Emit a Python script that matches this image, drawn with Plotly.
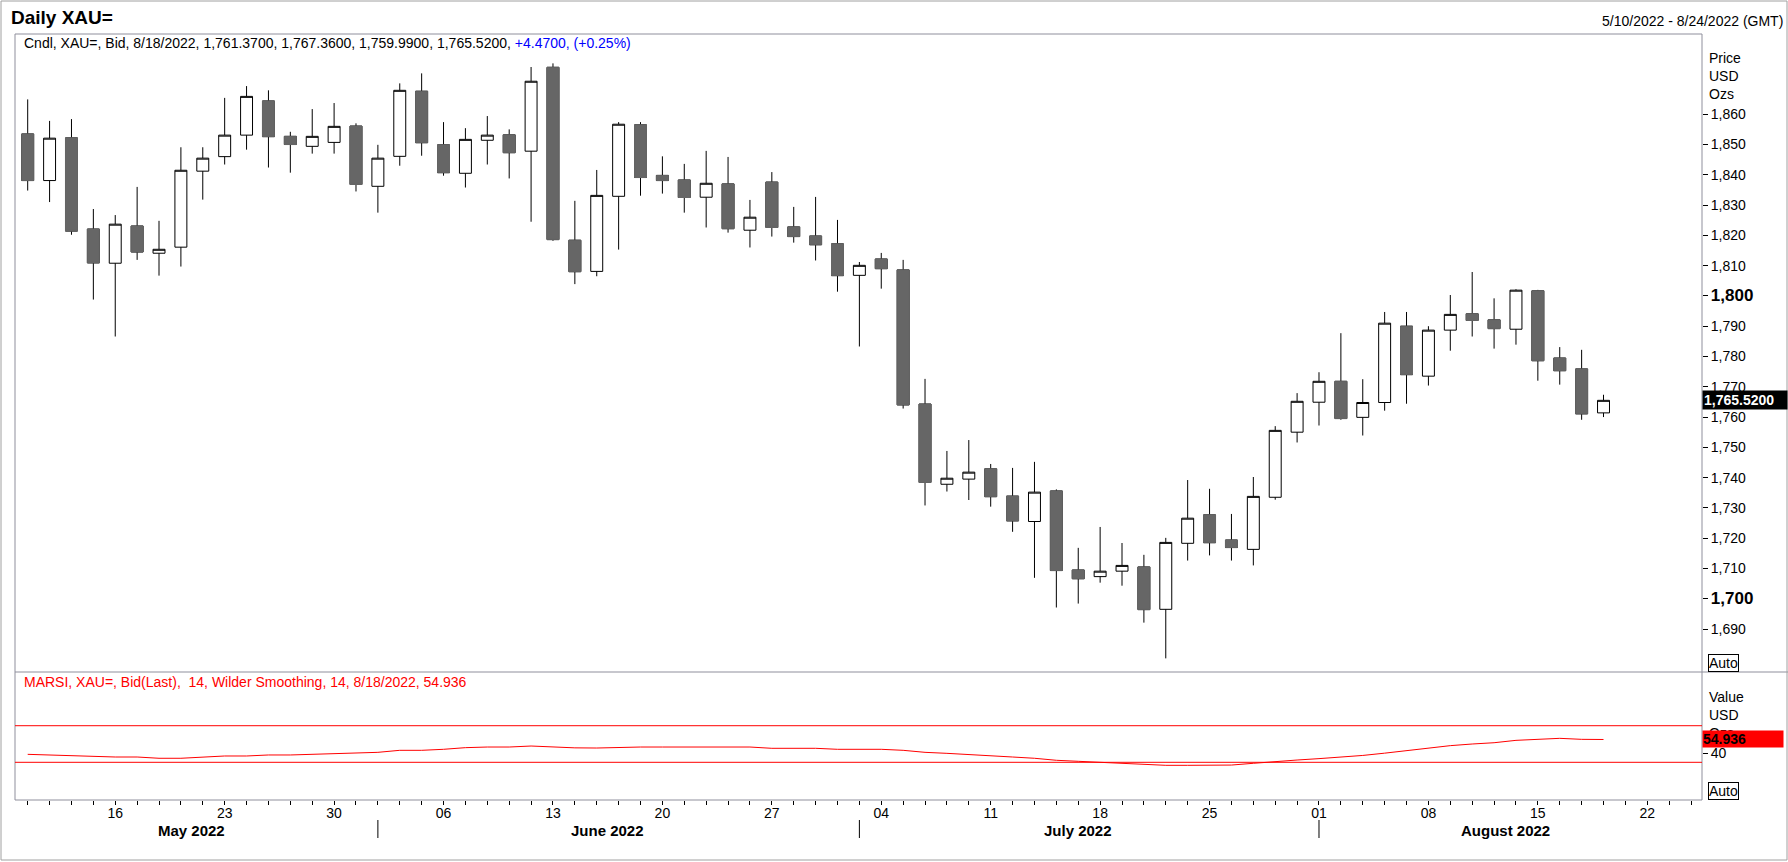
import pandas as pd
import plotly.graph_objects as go

# Daily XAU= candles, 5/10/2022 - 8/18/2022 (trading days)
opens = [1853.5, 1838.1, 1852.2, 1822.1, 1810.8, 1823.1, 1814.1, 1816.1, 1841.2, 1846.0,
         1853.1, 1864.4, 1852.7, 1849.4, 1850.7, 1856.1, 1836.2, 1846.1, 1867.6, 1849.9,
         1840.5, 1851.4, 1853.2, 1847.8, 1875.5, 1818.4, 1808.1, 1832.9, 1856.5, 1839.8,
         1838.3, 1832.6, 1837.0, 1821.7, 1837.6, 1822.8, 1819.8, 1817.2, 1806.8, 1812.2,
         1808.6, 1764.3, 1737.8, 1739.5, 1742.9, 1733.9, 1725.5, 1735.6, 1709.5, 1707.3,
         1709.1, 1710.5, 1696.5, 1718.3, 1727.7, 1719.4, 1716.3, 1733.5, 1755.0, 1764.9,
         1771.8, 1759.9, 1764.8, 1790.0, 1773.5, 1788.7, 1794.1, 1792.1, 1789.0, 1801.7,
         1779.5, 1775.9, 1761.37]
highs = [1864.9, 1857.8, 1858.4, 1828.7, 1826.7, 1836.0, 1824.8, 1849.1, 1849.1, 1865.4,
         1869.3, 1867.9, 1854.2, 1861.7, 1863.7, 1857.0, 1849.9, 1870.2, 1873.5, 1857.4,
         1855.4, 1859.4, 1855.0, 1875.6, 1876.8, 1831.4, 1841.6, 1857.4, 1857.4, 1846.1,
         1843.6, 1847.9, 1845.9, 1831.7, 1840.9, 1829.4, 1832.7, 1825.1, 1811.2, 1814.2,
         1811.9, 1772.6, 1748.8, 1752.4, 1744.5, 1743.2, 1745.2, 1736.1, 1716.8, 1723.7,
         1718.4, 1714.5, 1720.1, 1739.2, 1736.3, 1728.0, 1740.2, 1757.0, 1767.9, 1774.8,
         1787.7, 1772.5, 1794.7, 1794.7, 1790.0, 1800.3, 1807.9, 1799.2, 1802.2, 1802.0,
         1783.1, 1782.2, 1767.36]
lows = [1834.8, 1831.0, 1820.2, 1798.8, 1786.6, 1811.9, 1806.7, 1809.7, 1831.8, 1843.4,
        1848.3, 1842.4, 1840.7, 1847.0, 1847.0, 1834.5, 1827.5, 1843.0, 1846.3, 1839.7,
        1835.8, 1843.4, 1838.8, 1824.5, 1818.2, 1803.9, 1806.5, 1815.3, 1833.1, 1833.8,
        1827.5, 1822.6, 1820.9, 1816.0, 1819.6, 1817.6, 1811.7, 1801.4, 1783.3, 1802.4,
        1762.8, 1730.8, 1735.4, 1732.6, 1730.4, 1722.1, 1706.9, 1697.1, 1698.4, 1705.3,
        1704.3, 1692.1, 1680.3, 1712.6, 1714.3, 1712.6, 1711.0, 1732.7, 1751.6, 1757.2,
        1759.1, 1753.9, 1762.1, 1764.4, 1770.4, 1781.9, 1786.6, 1782.6, 1783.9, 1772.0,
        1770.7, 1759.1, 1759.99]
closes = [1838.1, 1852.1, 1821.4, 1810.9, 1823.7, 1814.5, 1815.4, 1841.5, 1845.5, 1853.1,
          1865.9, 1852.6, 1850.0, 1852.7, 1856.0, 1836.8, 1845.5, 1867.9, 1850.6, 1840.7,
          1851.7, 1853.1, 1847.3, 1870.9, 1818.6, 1808.0, 1833.2, 1856.7, 1839.1, 1838.1,
          1832.5, 1837.2, 1822.2, 1826.0, 1822.6, 1819.6, 1816.9, 1806.7, 1810.1, 1809.0,
          1764.0, 1738.4, 1739.8, 1741.8, 1733.7, 1725.7, 1735.2, 1709.3, 1706.6, 1709.1,
          1711.0, 1696.4, 1718.6, 1726.6, 1718.5, 1716.9, 1733.8, 1755.6, 1765.2, 1771.8,
          1759.5, 1764.8, 1791.0, 1774.0, 1788.7, 1793.9, 1791.9, 1789.2, 1801.9, 1778.6,
          1775.3, 1761.05, 1765.52]

# MARSI 14 (Wilder smoothing)
rsi = [38.7, 38.0, 36.9, 35.8, 35.8, 35.8, 34.4, 34.4, 35.5, 36.9,
       36.9, 38.0, 38.0, 38.7, 39.8, 39.8, 40.9, 43.1, 43.1, 44.2,
       46.0, 46.7, 46.7, 47.8, 46.7, 45.8, 45.6, 46.4, 46.7, 46.7,
       46.7, 46.7, 46.7, 46.7, 45.3, 45.3, 45.3, 44.2, 44.2, 44.2,
       43.1, 40.9, 39.8, 38.7, 36.9, 35.8, 34.4, 32.2, 31.1, 30.0,
       28.9, 27.8, 26.7, 26.7, 27.0, 27.0, 28.9, 30.3, 32.5, 34.0,
       35.4, 37.5, 40.0, 43.0, 45.6, 48.2, 50.0, 51.4, 54.0, 55.1,
       56.2, 55.1, 54.936]
rsi_bands = [70, 30]

price_ticks = list(range(1690, 1861, 10))
last_price = closes[-1]
last_rsi = rsi[-1]

# weekday calendar of the time axis
axis_days = pd.bdate_range('2022-05-10', '2022-08-24')
idx = list(range(len(closes)))

FONT = 'Arial, Liberation Sans, sans-serif'
FRAME = '#8f8f9c'
W, H = 1788, 862
ML, MR, MT, MB = 15, 86, 34, 62
PW, PH = W - ML - MR, H - MT - MB


def px(x):
    return (x - ML) / PW


def py(y):
    return (H - MB - y) / PH


split = py(672)

data = []
data.append(go.Candlestick(
    x=idx, open=opens, high=highs, low=lows, close=closes,
    increasing=dict(line=dict(color='black', width=1), fillcolor='white'),
    decreasing=dict(line=dict(color='black', width=1), fillcolor='#666666'),
    whiskerwidth=0, hoverinfo='skip', showlegend=False))

# grey bodies drawn again on top so the down candles have no black rim
down = [i for i in idx if closes[i] < opens[i]]
data.append(go.Candlestick(
    x=down, open=[opens[i] for i in down], close=[closes[i] for i in down],
    high=[opens[i] for i in down], low=[closes[i] for i in down],
    increasing=dict(line=dict(color='#666666', width=1), fillcolor='#666666'),
    decreasing=dict(line=dict(color='#666666', width=1), fillcolor='#666666'),
    whiskerwidth=0, hoverinfo='skip', showlegend=False))

data.append(go.Scatter(x=idx, y=rsi, mode='lines', yaxis='y2',
                       line=dict(color='red', width=1), hoverinfo='skip',
                       showlegend=False))

# x ticks: every trading day, labelled on Mondays
ticktext = [d.strftime('%d') if d.weekday() == 0 else '' for d in axis_days]

price_text = []
for v in price_ticks:
    s = '{:,}'.format(v)
    if v % 100 == 0:
        s = '<b><span style="font-size:17px">' + s + '</span></b>'
    price_text.append(s)

shapes = []
# pane frame and divider
shapes.append(dict(type='rect', xref='paper', yref='paper', x0=0, x1=1, y0=0, y1=1,
                   line=dict(color=FRAME, width=1)))
shapes.append(dict(type='line', xref='paper', yref='paper', x0=0, x1=px(W), y0=split, y1=split,
                   line=dict(color=FRAME, width=1)))
# outer border of the window
shapes.append(dict(type='rect', xref='paper', yref='paper', x0=px(1), x1=px(W - 1),
                   y0=py(H - 2), y1=py(1), line=dict(color='#a0a0a0', width=1)))
for b in rsi_bands:
    shapes.append(dict(type='line', xref='paper', yref='y2', x0=0, x1=1, y0=b, y1=b,
                       line=dict(color='red', width=1)))

annotations = []


def note(text, x, y, xref='paper', yref='paper', xanchor='left', size=14, color='black', **kw):
    annotations.append(dict(text=text, x=x, y=y, xref=xref, yref=yref, xanchor=xanchor,
                            yanchor='middle', showarrow=False,
                            font=dict(size=size, color=color), **kw))


# month separators and names
months = {}
for i, d in enumerate(axis_days):
    months.setdefault(d.strftime('%B %Y'), []).append(i)
x_lo, x_hi = -0.58, 76.5
for k, (name, pos) in enumerate(months.items()):
    if k > 0:
        shapes.append(dict(type='line', xref='x', yref='paper', x0=pos[0], x1=pos[0],
                           y0=py(820), y1=py(838), line=dict(color='black', width=1)))
    mid = (max(pos[0] - 0.5, x_lo) + min(pos[-1] + 0.5, x_hi)) / 2
    note('<b>' + name + '</b>', mid, py(830), xref='x', xanchor='center', size=15)

note('<b>Daily XAU=</b>', px(9), py(17), size=19)
note('5/10/2022 - 8/24/2022 (GMT)', px(1785), py(21), xanchor='right')
note('Cndl, XAU=, Bid, 8/18/2022, 1,761.3700, 1,767.3600, 1,759.9900, 1,765.5200, '
     '<span style="color:#0000ff">+4.4700, (+0.25%)</span>', px(22), py(43))
note('MARSI, XAU=, Bid(Last),  14, Wilder Smoothing, 14, 8/18/2022, 54.936',
     px(22), py(682), color='red')
for txt, yy in [('Price', 58), ('USD', 76), ('Ozs', 94), ('Value', 697), ('USD', 715), ('Ozs', 733)]:
    note(txt, px(1707), py(yy))
for yy in [663, 791]:
    note('Auto', px(1708), py(yy), bordercolor='black', borderwidth=1, borderpad=0)
note('<b>{:,.4f}</b>'.format(last_price), 1, last_price, yref='y', color='white',
     bgcolor='black', borderpad=1, width=82, align='left')
note('<b>{:.3f}</b>'.format(last_rsi), 1, last_rsi, yref='y2',
     bgcolor='red', borderpad=0, width=80, align='left')

layout = dict(
    width=W, height=H,
    margin=dict(l=ML, r=MR, t=MT, b=MB),
    paper_bgcolor='white', plot_bgcolor='white',
    font=dict(family=FONT, size=14, color='black'),
    boxgap=0.22,
    showlegend=False,
    xaxis=dict(anchor='y2', range=[x_lo, x_hi], tickmode='array',
               tickvals=list(range(len(axis_days))), ticktext=ticktext,
               ticks='outside', ticklen=4, tickcolor='black', showgrid=False,
               zeroline=False, showline=False, rangeslider=dict(visible=False),
               ticklabelstandoff=-4, tickfont=dict(size=14)),
    yaxis=dict(domain=[split, 1], side='right', anchor='x', range=[1675.8, 1886.5],
               tickmode='array', tickvals=price_ticks, ticktext=price_text,
               ticks='outside', ticklen=5, tickcolor='black', showgrid=False,
               zeroline=False, showline=False, tickfont=dict(size=14)),
    yaxis2=dict(domain=[0, split], side='right', anchor='x', range=[-11.2, 128.7],
                tickmode='array', tickvals=[40], ticktext=['40'],
                ticks='outside', ticklen=5, tickcolor='black', showgrid=False,
                zeroline=False, showline=False, tickfont=dict(size=14)),
    shapes=shapes,
    annotations=annotations,
)

fig = go.Figure(data=data, layout=layout)
fig.write_html('out.html', config={'displayModeBar': False},
               post_script="document.body.style.margin='0px';document.body.style.overflow='hidden';")
